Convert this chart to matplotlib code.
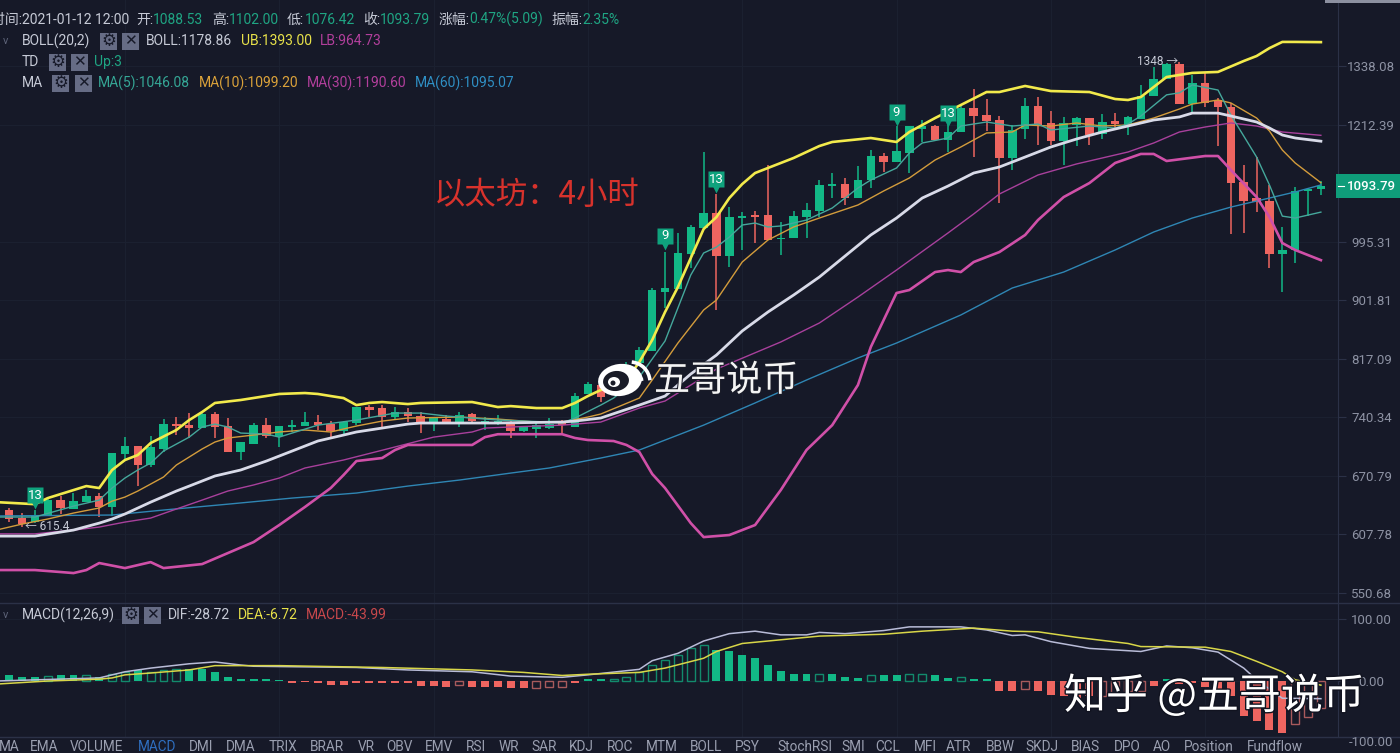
import matplotlib
matplotlib.use("Agg")
import matplotlib.pyplot as plt
import matplotlib.patheffects as pe
from matplotlib.patches import Rectangle, Ellipse, Arc
from matplotlib.transforms import offset_copy

plt.rcParams['font.family'] = ['Roboto', 'Noto Sans CJK SC', 'DejaVu Sans']

# ---- candles ----
opens = [633, 624.7, 620.5, 627.9, 644, 634.3, 641.7, 648.3, 636.5, 695.9,
         705.4, 683.1, 701.8, 731.9, 730.6, 727, 744.4, 729.5, 698.2, 707.7,
         730.6, 717.3, 728.3, 729.5, 734.4, 731.9, 723.4, 733.2, 753.2, 751.9,
         740.6, 746.9, 741.9, 734.4, 738.1, 734.4, 744.4, 734.4, 734.4, 734.4,
         723.4, 725.8, 727, 734.4, 728.3, 770, 781.7, 778, 791, 811,
         827.8, 914.3, 919, 974.8, 1018.4, 1044.5, 971.5, 1035.7, 1041, 1041,
         999.7, 1001.4, 1037.4, 1048, 1094, 1097, 1071.2, 1104.2, 1149.8, 1138.3,
         1155.6, 1203.4, 1209.4, 1181.2, 1197.3, 1246.7, 1232, 1221.7, 1146, 1203.4,
         1251, 1215.6, 1179.2, 1211.5, 1225.8, 1193.3, 1219.6, 1211.5, 1223.8, 1272.4,
         1309.1, 1342, 1255, 1300.4, 1263.6, 1248.8, 1100.5, 1071.2, 1065.8, 974.8,
         981.4, 1084, 1088.53]
highs = [635.4, 630, 633, 645, 648.3, 651.6, 654.9, 651.6, 697.1, 716,
         705.4, 717.3, 738.1, 740.6, 745.6, 746.9, 746.9, 739.4, 710.1, 733.2,
         739.4, 729.5, 736.9, 746.9, 743.1, 735.6, 735.6, 753.2, 755.7, 755.7,
         753.2, 751.9, 746.9, 739.4, 743.1, 746.9, 745.6, 740.6, 743.1, 736.9,
         729.5, 734.4, 739.4, 736.9, 771.2, 785.6, 786, 794, 812, 833,
         920, 978, 1009.9, 1023.6, 1157.6, 1078.5, 1055, 1046.2, 1048, 1132.5,
         1028.8, 1048, 1062.3, 1104.2, 1117.3, 1108, 1130.5, 1161.5, 1155.6, 1209.4,
         1209.4, 1221.7, 1211.5, 1215.6, 1251, 1287, 1265.7, 1230, 1211.5, 1268,
         1270, 1240.4, 1228, 1228, 1225.8, 1234, 1236, 1230, 1296, 1336,
         1345, 1348, 1318, 1322.6, 1268, 1257.3, 1132.5, 1147.8, 1095, 1020.2,
         1091.3, 1087.6, 1102]
lows = [620.5, 615.3, 619.4, 627, 629, 634.3, 641.7, 625.8, 626.9, 688.9,
        659.3, 680.8, 698.2, 718.5, 714.9, 727, 714.9, 698.2, 688.9, 707.7,
        714.9, 704.2, 722.2, 729.5, 724.6, 716.1, 718.5, 730.6, 740.6, 727,
        736.9, 734.4, 720.9, 723.4, 733.2, 728.3, 734.4, 724.6, 730.6, 714.9,
        722.2, 714.9, 725.8, 720.9, 728.3, 770, 760, 775, 788, 811,
        827.8, 890, 919, 952, 1018.4, 887, 953.6, 981.4, 993, 998,
        973.2, 1001.4, 1001.4, 1037.4, 1071.2, 1058.7, 1071.2, 1089.4, 1119.2, 1138.3,
        1117.3, 1177.3, 1179.2, 1157.6, 1197.3, 1148, 1199.3, 1062.3, 1123, 1183.2,
        1171, 1171, 1132.5, 1169.3, 1171, 1183.2, 1203.4, 1191.2, 1223.8, 1272.4,
        1309.1, 1255, 1238.3, 1248.8, 1169.3, 1008.2, 1009.9, 1046.2, 952, 914.3,
        960, 1039, 1076.42]
closes = [623.7, 618.4, 627.9, 644, 635.4, 642.8, 648.3, 636.5, 697.1, 705.4,
          683.1, 704.2, 731.9, 729.4, 727, 744.4, 728.3, 698.2, 710.1, 730.6,
          717.3, 729.5, 730.6, 734.4, 730.6, 723.4, 734.4, 753.2, 749.4, 740.6,
          746.9, 741.9, 734.4, 739.4, 734.4, 743.1, 735.6, 735.6, 735.6, 723.4,
          728.3, 730.6, 731.9, 730.6, 767.3, 783, 766, 791, 808.5, 829.2,
          917.4, 920.5, 976.4, 1020.2, 1044.5, 971.5, 1037.4, 1039, 1037.4, 998,
          1001.4, 1039, 1049.8, 1095, 1097, 1071.2, 1104.2, 1149.8, 1138.3, 1159.6,
          1209.4, 1209.4, 1181.2, 1197.3, 1246.7, 1230, 1219.6, 1146, 1201.3, 1251,
          1211.5, 1179.2, 1215.6, 1225.8, 1191.2, 1217.6, 1213.5, 1228, 1272.4, 1309.1,
          1342, 1255, 1300.4, 1257.3, 1248.8, 1098.6, 1065.8, 1064, 974.8, 981.4,
          1084, 1087.6, 1093.79]

# ---- overlays ----
ub_idx = [-1, 2, 3, 6, 7, 8, 9, 10, 11, 13, 14, 15, 16, 18, 21, 23, 24, 25, 26, 27, 28, 29, 31, 32, 36,
          38, 39, 41, 43, 44, 45, 46, 47, 48, 49, 50, 51, 52, 53, 54, 55, 56, 57, 58, 59, 61, 63, 64, 67,
          69, 70, 72, 74, 76, 77, 79, 81, 84, 86, 87, 88, 90, 92, 94, 96, 97, 98, 99, 100, 102]
ub_vals = [641.7, 639.5, 646.1, 659.3, 657.1, 677.4, 688.9, 694.7, 708.9, 724.6, 736.9, 746.9, 758.4, 762.2,
           770, 771.2, 770, 767.3, 764.7, 755.7, 758.4, 759.6, 757, 758.4, 759.6, 753.2, 754.4, 751.9, 751.9,
           758.4, 767.3, 775.1, 780.4, 788.3, 812.6, 843.3, 884, 922, 968.2, 1016.7, 1037.4, 1071.2, 1096.7,
           1117.3, 1126.8, 1146, 1169.3, 1177.3, 1185.2, 1177.3, 1197.3, 1225.8, 1253, 1280.7, 1280.7, 1293.8,
           1282.8, 1280.7, 1265.7, 1263.6, 1270, 1313.5, 1322.6, 1324.8, 1349.4, 1360.8, 1379, 1393.5, 1393.5, 1393]

boll_idx = [-1, 2, 5, 7, 8, 9, 11, 13, 14, 16, 18, 20, 22, 24, 26, 27, 29, 31, 32, 38, 43, 44, 46, 49, 51, 53,
            55, 57, 59, 61, 63, 65, 67, 69, 71, 73, 75, 77, 79, 81, 83, 85, 87, 89, 91, 92, 94, 95, 97, 98,
            99, 100, 102]
boll_vals = [606, 606, 612.2, 619.4, 623.7, 629, 641.7, 653.8, 659.3, 670.6, 677.4, 687.7, 699.4, 711.3, 718.5,
             722.2, 727, 731.9, 733.2, 733.2, 734.4, 735.6, 739.4, 755.7, 767.3, 796.3, 822.2, 856.2, 884, 909.7,
             937.7, 971.5, 1006.5, 1035.7, 1071.2, 1093, 1117.3, 1128.7, 1147.8, 1167.4, 1183.2, 1197.3, 1209.4,
             1221.7, 1228, 1236, 1236, 1230, 1217.6, 1205.3, 1191.2, 1185.2, 1178.86]

lb_idx = [-1, 2, 4, 5, 6, 7, 9, 11, 12, 15, 17, 19, 21, 23, 25, 26, 27, 29, 30, 31, 36, 37, 38, 43, 44, 45, 47,
          48, 49, 50, 51, 53, 54, 56, 58, 60, 62, 64, 66, 67, 69, 70, 72, 73, 74, 75, 77, 79, 80, 82, 84, 86,
          88, 89, 90, 93, 94, 95, 97, 98, 99, 100, 102]
lb_vals = [572.3, 572.3, 570.4, 569.4, 572.3, 579.1, 574.2, 580, 574.2, 578.1, 588.9, 599.9, 617.4, 636.5, 657.1,
           671.7, 687.7, 691.2, 700.6, 706.6, 706.6, 716, 719.5, 719.5, 714.9, 712.5, 711.3, 706.6, 698.2, 672.9,
           657.1, 619.4, 605, 607.1, 617.4, 654.9, 700.6, 730.6, 781.7, 833.4, 912.8, 917.4, 945.6, 948.8, 945.6,
           961.7, 978, 1006.5, 1032.2, 1073, 1098.6, 1136.4, 1153.8, 1153.8, 1140.2, 1149.8, 1149.8, 1123, 1073,
           1037.4, 993, 981.4, 964.73]

ma5_idx = [-1, 2, 5, 7, 8, 9, 10, 11, 12, 14, 15, 16, 17, 18, 20, 21, 22, 24, 27, 30, 32, 34, 38, 42, 43, 44,
           46, 47, 49, 51, 53, 54, 55, 56, 57, 58, 59, 60, 62, 64, 66, 67, 69, 70, 71, 73, 74, 76, 78, 80, 81,
           84, 86, 87, 88, 90, 91, 92, 94, 95, 97, 98, 99, 100, 102]
ma5_vals = [625.8, 625.8, 637.4, 643.9, 657.1, 668.3, 677.4, 685.4, 699.4, 716, 728.3, 731.9, 728.3, 720.9, 719.7,
            716, 720.9, 730.6, 736.9, 745.6, 745.6, 741.9, 736.9, 734.4, 733.2, 739.4, 755.7, 764.7, 792.3, 841.9,
            940.9, 976.4, 986.3, 1003, 1023.6, 1027, 1020.2, 1021.9, 1032.2, 1053.3, 1089.4, 1104.2, 1126.8,
            1155.6, 1175.3, 1185.2, 1209.4, 1217.6, 1209.4, 1213.5, 1201.3, 1209.4, 1205.3, 1213.5, 1230, 1274.6,
            1279, 1296, 1285, 1232, 1147.8, 1095, 1039, 1035.7, 1046.08]

ma10_idx = [-1, 1, 3, 5, 7, 8, 9, 10, 12, 13, 15, 16, 17, 19, 21, 23, 25, 27, 29, 31, 35, 38, 41, 43, 45, 46, 49,
            50, 52, 54, 55, 57, 59, 61, 63, 66, 68, 70, 72, 74, 76, 78, 79, 81, 83, 85, 87, 89, 91, 92, 94, 95,
            97, 98, 99, 100, 102]
ma10_vals = [612.2, 618.4, 623.7, 630, 635.4, 642.8, 647.2, 653.8, 669.4, 683.1, 701.8, 710.1, 714.9, 718.5, 722.2,
             724.6, 722.2, 729.5, 735.6, 739.4, 740.6, 738.1, 734.4, 734.4, 740.6, 744.4, 764.7, 788.3, 839, 887,
             902.1, 961.7, 998, 1020.2, 1035.7, 1058.7, 1084, 1108, 1142.1, 1167.4, 1195.3, 1197.3, 1211.5, 1209.4,
             1215.6, 1209.4, 1211.5, 1225.8, 1244.6, 1255, 1263.6, 1257.3, 1225.8, 1199.3, 1161.5, 1136.4, 1099.2]

ma30_idx = [-1, 2, 5, 7, 9, 11, 13, 15, 17, 19, 21, 23, 26, 30, 33, 36, 37, 39, 43, 46, 49, 51, 55, 60, 63, 66, 69,
            73, 75, 77, 80, 83, 87, 89, 91, 93, 95, 97, 99, 102]
ma30_vals = [608.3, 608.3, 612.2, 615.3, 620.5, 624.7, 634.3, 643.9, 653.8, 660.5, 668.3, 679.7, 688.9, 704.2, 716,
             722.2, 727, 728.3, 730.6, 734.4, 751.9, 760.9, 803, 840.5, 867.8, 906.6, 948.8, 1009.9, 1042.8, 1078.5,
             1113.6, 1134.5, 1157.6, 1175.3, 1197.3, 1207.4, 1215.6, 1209.4, 1197.3, 1190.6]

ma60_idx = [-1, 8, 12, 17, 22, 27, 31, 35, 39, 42, 46, 49, 54, 58, 62, 66, 69, 74, 78, 82, 86, 89, 92, 95, 98, 100, 102]
ma60_vals = [626.9, 627.9, 633.2, 639.5, 646.1, 651.6, 659.3, 666, 673.9, 679.7, 691.2, 700.6, 730.6, 758.4, 788.3,
             818.1, 839, 879.6, 920.5, 945.6, 981.4, 1011.6, 1035.7, 1055, 1071.2, 1082.2, 1095.07]

# ---- MACD pane ----
hist_vals = [10, 7, 7, 8, 10, 9, 9, 7, 12, 15,
             18, 15, 18, 20, 19, 19, 15, 7, 3, 3,
             3, 2, -3, -2, -4, -6, -6, -3, -3, -3,
             -3, -3, -8, -8, -10, -7, -9, -9, -10, -12,
             -12, -12, -10, -10, -3, 3, 3, 4, 6, 14,
             26, 34, 42, 53, 58, 50, 48, 42, 37, 26,
             17, 12, 11, 12, 11, 7, 5, 9, 9, 9,
             12, 12, 9, 5, 6, 4, 3, -16, -17, -13,
             -16, -23, -25, -30, -25, -24, -20, -16, -17, -8,
             3, -5, -3, -10, -15, -25, -57, -65, -80, -84,
             -70, -58, -43.99]
hollow_bars = [3, 6, 8, 9, 11, 12, 13, 35, 41, 42, 43, 47, 48, 49, 50, 51, 52, 53, 54,
               63, 67, 70, 71, 74, 79, 85, 86, 87, 88, 100, 101, 102]

dif_idx = [-1, 7, 9, 11, 14, 16, 18, 19, 27, 31, 36, 39, 43, 45, 49, 50, 52, 54, 56, 58, 60, 62, 63, 65, 68, 70,
           74, 76, 78, 79, 81, 84, 88, 90, 92, 94, 96, 97, 99, 102]
dif_vals = [0, 5, 15, 21, 28, 31, 26, 24, 22, 18, 15, 8, 6, 10, 19, 33, 45, 65, 77, 81, 75, 75, 79, 77, 82, 88,
            88, 83, 74, 75, 64, 53, 48, 57, 54, 47, 21, 2, -28, -28.72]
dea_idx = [-1, 3, 7, 8, 9, 11, 14, 16, 21, 29, 36, 40, 43, 45, 49, 51, 54, 55, 57, 60, 63, 68, 71, 75, 78, 80, 83,
           87, 88, 93, 95, 97, 99, 100, 102]
dea_vals = [-5, 0, 3, 5, 10, 13, 18, 25, 25, 22, 18, 14, 9, 11, 14, 21, 37, 48, 61, 67, 73, 76, 81, 86, 81, 80, 71,
            61, 56, 55, 48, 32, 15, 2, -6.72]

price_ticks = [1338.08, 1212.39, 995.31, 901.81, 817.09, 740.34, 670.79, 607.78, 550.68]
macd_ticks = [100, 0]
tab_names = ["MA", "EMA", "VOLUME", "MACD", "DMI", "DMA", "TRIX", "BRAR", "VR", "OBV", "EMV", "RSI", "WR", "SAR",
             "KDJ", "ROC", "MTM", "BOLL", "PSY", "StochRSI", "SMI", "CCL", "MFI", "ATR", "BBW", "SKDJ", "BIAS",
             "DPO", "AO", "Position", "Fundflow"]
tab_x = [9, 44, 97, 157, 201, 241, 283, 327, 366, 399, 439, 476, 509, 544, 581, 620, 662, 706, 747, 805, 853,
         888, 925, 959, 1000, 1042, 1085, 1127, 1162, 1209, 1275]

BG = "#161928"
GRID = "#1b2030"
EDGE = "#2b3147"
GREEN = "#12b886"
RED = "#ee6560"
GREY = "#c6cad6"
TICK = "#8d92a3"

fig = plt.figure(figsize=(14, 7.53), dpi=100, facecolor=BG)
W, H = 1400, 753

ax = fig.add_axes([0, 1 - 603 / H, 1338 / W, 603 / H], facecolor=BG)
ax2 = fig.add_axes([0, 1 - 737 / H, 1338 / W, 134 / H], facecolor=BG)
xlim = (-0.715, 103.33)
grid_k = [9, 21, 33, 45, 57, 69, 81, 93]

# ---- price pane ----
ax.set_yscale("log")
ax.set_xlim(*xlim)
ax.set_ylim(541.4, 1495.5)
ax.set_xticks(grid_k)
ax.set_yticks(price_ticks, labels=[f"{v:.2f}" for v in price_ticks])
ax.minorticks_off()
ax.grid(True, color=GRID, lw=0.8)
ax.set_axisbelow(True)

for i in range(len(opens)):
    up = closes[i] >= opens[i]
    c = GREEN if up else RED
    ax.vlines(i, lows[i], highs[i], color=c, lw=1.1, zorder=2)
    lo, hi = min(opens[i], closes[i]), max(opens[i], closes[i])
    ax.bar(i, hi - lo, bottom=lo, width=0.66, color=c, lw=0, zorder=3)

ax.plot(ma60_idx, ma60_vals, color="#2f86b4", lw=1.0, zorder=4, solid_joinstyle="round")
ax.plot(ma30_idx, ma30_vals, color="#a8409c", lw=1.0, zorder=4, solid_joinstyle="round")
ax.plot(ma10_idx, ma10_vals, color="#d39c3c", lw=1.0, zorder=4, solid_joinstyle="round")
ax.plot(ma5_idx, ma5_vals, color="#45a89c", lw=1.0, zorder=4, solid_joinstyle="round")
ax.plot(lb_idx, lb_vals, color="#d050a8", lw=1.9, zorder=5, solid_joinstyle="round")
ax.plot(boll_idx, boll_vals, color="#d8dae8", lw=2.0, zorder=5, solid_joinstyle="round")
ax.plot(ub_idx, ub_vals, color="#f2ea4c", lw=1.9, zorder=5, solid_joinstyle="round")

# TD count badges: square with a small pointer under it
below = offset_copy(ax.transData, fig=fig, y=-7, units="points")
for k, p, s in [(2, 649, "13"), (51, 1005, "9"), (55, 1106, "13"), (69, 1238, "9"), (73, 1236, "13")]:
    ax.plot([k], [p], marker="s", ms=12, color="#0fa27d", mec="none", zorder=6)
    ax.plot([k], [p], marker="v", ms=6, color="#0fa27d", mec="none", zorder=6, transform=below)
    ax.text(k, p, s, color="white", fontsize=9.5, ha="center", va="center", zorder=7)
ax.text(1.2, 615.4, "← 615.4", color=GREY, fontsize=8.5, va="center", zorder=7)
ax.text(90.9, 1348, "1348 →", color=GREY, fontsize=8.5, ha="right", va="center", zorder=7)

# ---- MACD pane ----
ax2.set_xlim(*xlim)
ax2.set_ylim(-91, 126.8)
ax2.set_xticks(grid_k)
ax2.set_yticks(macd_ticks, labels=["100.00", "0.00"])
ax2.grid(True, color=GRID, lw=0.8)
ax2.set_axisbelow(True)
for i, v in enumerate(hist_vals):
    c = GREEN if v >= 0 else RED
    if i in hollow_bars:
        c2 = "#128a6c" if v >= 0 else "#a85a5c"
        ax2.bar(i, v, width=0.62, facecolor="none", edgecolor=c2, lw=1.0, zorder=2)
    else:
        ax2.bar(i, v, width=0.62, color=c, lw=0, zorder=2)
ax2.plot(dif_idx, dif_vals, color="#b9bcd8", lw=1.1, zorder=3)
ax2.plot(dea_idx, dea_vals, color="#d8d648", lw=1.1, zorder=3)

for a in (ax, ax2):
    for s in ("top", "left", "bottom"):
        a.spines[s].set_visible(False)
    a.spines["right"].set_color(EDGE)
    a.yaxis.tick_right()
    a.tick_params(axis="x", length=0, labelbottom=False)
    a.tick_params(axis="y", length=6, width=0.8, color=EDGE, labelcolor=TICK, labelsize=9.5, pad=18)
    for lab in a.get_yticklabels():
        lab.set_ha("center")

# ---- overlay in screen pixels: legends, tabs, watermarks ----
ov = fig.add_axes([0, 0, 1, 1], facecolor="none")
ov.set_xlim(0, W)
ov.set_ylim(H, 0)
ov.axis("off")


def label(x, y, s, color=GREY, size=10, **kw):
    ov.text(x, y, s, color=color, fontsize=size, va="center", **kw)


def icons(x_gear, x_close, y):
    for x0, glyph, fs in [(x_gear, "⚙", 12), (x_close, "✕", 11)]:
        ov.add_patch(Rectangle((x0, y - 8.5), 17, 17, fc="#666c85", ec="none"))
        ov.text(x0 + 8.5, y, glyph, color=BG, fontsize=fs, ha="center", va="center", family="DejaVu Sans")


ov.plot([0, W], [603, 603], color=EDGE, lw=1)
ov.plot([0, W], [737, 737], color=EDGE, lw=1)
ov.add_patch(Rectangle((1325, 0), 75, 3, fc="#8c90a0", ec="none"))

# header row
G1 = "#1fa583"
label(129, 19.5, "时间:2021-01-12 12:00", ha="right")
for x, s, c in [(136, "开:", GREY), (153, "1088.53", G1), (212, "高:", GREY), (229, "1102.00", G1),
                (287, "低:", GREY), (305, "1076.42", G1), (363, "收:", GREY), (380, "1093.79", G1),
                (439, "涨幅:", GREY), (469, "0.47%(5.09)", G1), (551, "振幅:", GREY), (582, "2.35%", G1)]:
    label(x, 19.5, s, c)

# indicator rows
label(3, 41, "v", "#5d6378", 8)
label(22, 41, "BOLL(20,2)")
icons(100, 122, 41)
label(146, 41, "BOLL:1178.86")
label(241, 41, "UB:1393.00", "#e8e24a")
label(320, 41, "LB:964.73", "#b23f9c")

label(22, 62, "TD")
icons(49, 71, 62)
label(94, 62, "Up:3", G1)

label(22, 83, "MA")
icons(52, 75, 83)
label(98, 83, "MA(5):1046.08", "#35a796")
label(199, 83, "MA(10):1099.20", "#dba23a")
label(307, 83, "MA(30):1190.60", "#b23f9c")
label(415, 83, "MA(60):1095.07", "#2f8fc4")

label(3, 615, "v", "#5d6378", 8)
label(22, 615, "MACD(12,26,9)")
icons(122, 144, 615)
label(168, 615, "DIF:-28.72")
label(238, 615, "DEA:-6.72", "#e8e24a")
label(306, 615, "MACD:-43.99", "#c8484c")

# tabs along the bottom
for x, s in zip(tab_x, tab_names):
    ov.text(x, 747, s, color="#2f6fc0" if s == "MACD" else "#9a9fb0", fontsize=9.8,
            ha="center", va="center")

# last price box and the tick outside the pane
ov.add_patch(Rectangle((1336, 174), 64, 24, fc="#0f9d7a", ec="none"))
ov.text(1371, 186, "1093.79", color="white", fontsize=9.5, ha="center", va="center", fontweight="medium")
ov.plot([1338, 1344], [186, 186], color="white", lw=0.8)
ov.text(1371, 742, "-100.00", color=TICK, fontsize=9.5, ha="center", va="center")

# title and watermarks
ov.text(434, 195, "以太坊：4小时", color="#d8322c", fontsize=22.6, va="center",
        family=['Noto Sans CJK SC', 'DejaVu Sans'])
ov.text(654, 381, "五哥说币", color="#f4f4f4", fontsize=26, va="center",
        family=['Noto Sans CJK SC', 'DejaVu Sans'],
        path_effects=[pe.withStroke(linewidth=1.5, foreground="#1a1c28")])
ov.text(1064, 696, "知乎 @五哥说币", color="white", fontsize=30.2, va="center",
        family=['Noto Sans CJK SC', 'DejaVu Sans'],
        path_effects=[pe.withStroke(linewidth=2, foreground="#111320")])

# weibo logo
ov.add_patch(Ellipse((620, 380), 44, 32, angle=-8, fc="white", ec="none", zorder=8))
ov.add_patch(Ellipse((616, 381), 26, 20, angle=-8, fc="#1a1c28", ec="none", zorder=9))
ov.add_patch(Ellipse((614, 382), 12, 10, fc="white", ec="none", zorder=10))
ov.add_patch(Ellipse((613, 383), 5, 5, fc="#1a1c28", ec="none", zorder=11))
ov.add_patch(Arc((630, 382), 40, 40, theta1=-85, theta2=-5, color="white", lw=2.6, zorder=9))
ov.add_patch(Arc((630, 382), 24, 24, theta1=-85, theta2=-5, color="white", lw=2.2, zorder=9))

fig.savefig("out.png", dpi=100, facecolor=BG)
